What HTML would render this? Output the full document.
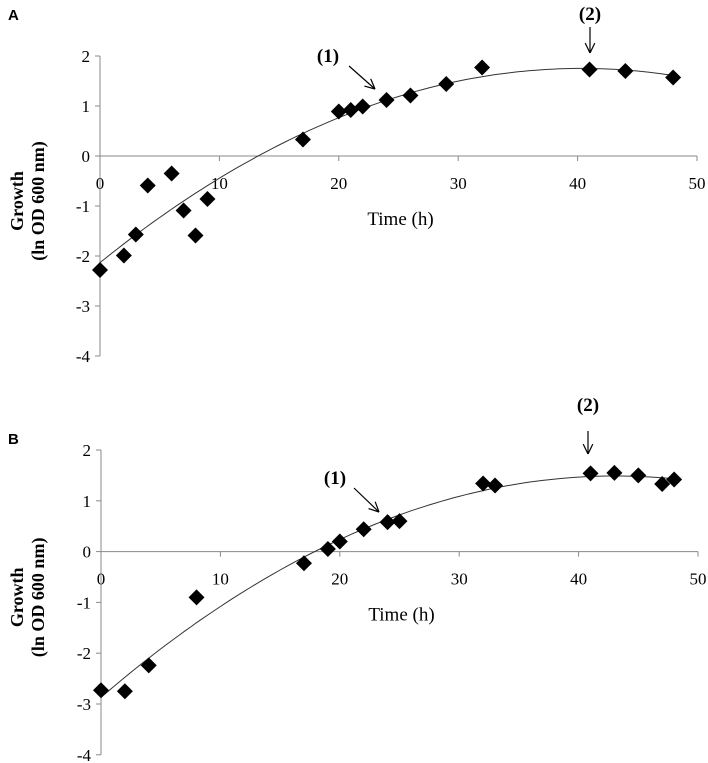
<!DOCTYPE html>
<html><head><meta charset="utf-8"><style>
body{margin:0;background:#fff;}
svg{display:block;font-family:"Liberation Serif",serif;}
</style></head><body>
<svg id="c" width="708" height="763"></svg>
<script>
const hoursA=[0,2,3,4,6,7,8,9,17,20,21,22,24,26,29,32,41,44,48];
const growthA=[-2.28,-1.99,-1.57,-0.59,-0.35,-1.09,-1.59,-0.86,0.33,0.89,0.92,0.99,1.12,1.21,1.44,1.77,1.73,1.70,1.57];
const hoursB=[0,2,4,8,17,19,20,22,24,25,32,33,41,43,45,47,48];
const growthB=[-2.73,-2.75,-2.24,-0.9,-0.23,0.05,0.2,0.44,0.58,0.6,1.34,1.3,1.54,1.55,1.5,1.33,1.42];
const xTicks=[0,10,20,30,40,50];
const yTicks=[2,1,0,-1,-2,-3,-4];

const NS="http://www.w3.org/2000/svg";
const svg=document.getElementById('c');
function mk(tag,attrs,parent,txt){const e=document.createElementNS(NS,tag);for(const k in attrs)e.setAttribute(k,attrs[k]);if(txt!==undefined)e.textContent=txt;(parent||svg).appendChild(e);return e;}

function fitQuad(xs,ys){
  let S=[0,0,0,0,0],T=[0,0,0];
  for(let i=0;i<xs.length;i++){let p=1;for(let k=0;k<5;k++){S[k]+=p;if(k<3)T[k]+=p*ys[i];p*=xs[i];}}
  const M=[[S[0],S[1],S[2],T[0]],[S[1],S[2],S[3],T[1]],[S[2],S[3],S[4],T[2]]];
  for(let i=0;i<3;i++){for(let j=i+1;j<3;j++){const f=M[j][i]/M[i][i];for(let k=i;k<4;k++)M[j][k]-=f*M[i][k];}}
  const c=[0,0,0];
  for(let i=2;i>=0;i--){let s=M[i][3];for(let k=i+1;k<3;k++)s-=M[i][k]*c[k];c[i]=s/M[i][i];}
  return c;
}

function panel(id,label,labelY,hours,growth,x0,x50,y2,yUnit,ann){
  const g=mk('g',{},svg);
  
  
  const X=t=>x0+(x50-x0)*t/50;
  const Y=v=>y2+(2-v)*yUnit;
  const pl=mk('text',{x:8,y:labelY,'font-family':'Liberation Sans, sans-serif','font-weight':'bold','font-size':15},g,label);
  
  
  const ya=mk('line',{x1:x0,y1:Y(2),x2:x0,y2:Y(-4),stroke:'#888','stroke-width':1},g);
  
  
  const xa=mk('line',{x1:x0,y1:Y(0),x2:X(50),y2:Y(0),stroke:'#888','stroke-width':1},g);
  
  
  yTicks.forEach(v=>{
    mk('line',{x1:x0-5,y1:Y(v),x2:x0,y2:Y(v),stroke:'#888'},g);
    const t=mk('text',{x:x0-10,y:Y(v)+6,'text-anchor':'end','font-size':17},g,String(v));
    
    
  });
  xTicks.forEach(v=>{
    mk('line',{x1:X(v),y1:Y(0),x2:X(v),y2:Y(0)+5,stroke:'#888'},g);
    const t=mk('text',{x:X(v),y:Y(0)+33,'text-anchor':'middle','font-size':17},g,String(v));
    
    
  });
  const xt=mk('text',{x:X(25)+2,y:Y(0)+69,'text-anchor':'middle','font-size':19},g,'Time (h)');
  
  
  const cy=Y(-0.9);
  const yt=mk('text',{transform:`translate(27,${cy}) rotate(-90)`,'text-anchor':'middle','font-weight':'bold','font-size':18},g);
  
  
  mk('tspan',{x:0,dy:-4},yt,'Growth');
  mk('tspan',{x:0,dy:21},yt,'(ln OD 600 nm)');
  const c=fitQuad(hours,growth);
  let d='';
  for(let t=0;t<=48;t+=0.5){const v=c[0]+c[1]*t+c[2]*t*t;d+=(d?'L':'M')+X(t).toFixed(1)+','+Y(v).toFixed(1);}
  const tr=mk('path',{d:d,fill:'none',stroke:'#333','stroke-width':1},g);
  
  
  hours.forEach((h,i)=>{
    const px=X(h),py=Y(growth[i]),r=8;
    const p=mk('path',{d:`M${px},${py-r}L${px+r},${py}L${px},${py+r}L${px-r},${py}Z`,fill:'#000'},g);
    
    
  });
  ann.forEach(a=>{
    const t=mk('text',{x:a.tx,y:a.ty,'text-anchor':'middle','font-weight':'bold','font-size':19},g,a.label);
    
    
    const ag=mk('g',{stroke:'#000','stroke-width':1.2,fill:'none'},g);
    
    
    mk('line',{x1:a.x1,y1:a.y1,x2:a.x2,y2:a.y2},ag);
    const ang=Math.atan2(a.y2-a.y1,a.x2-a.x1),L=11;
    [0.45,-0.45].forEach(s=>{mk('line',{x1:a.x2,y1:a.y2,x2:a.x2-L*Math.cos(ang+s),y2:a.y2-L*Math.sin(ang+s)},ag);});
  });
}
panel('panel-a','A',20,hoursA,growthA,100,697,56,50,[
  {label:'(1)',tx:328,ty:62,x1:349,y1:66,x2:375,y2:89},
  {label:'(2)',tx:590,ty:20,x1:590,y1:27,x2:590,y2:53}]);
panel('panel-b','B',444,hoursB,growthB,101,698,450,50.8,[
  {label:'(1)',tx:335,ty:484,x1:354,y1:488,x2:379,y2:512},
  {label:'(2)',tx:588,ty:411,x1:588,y1:431,x2:588,y2:454}]);
</script>
</body></html>
